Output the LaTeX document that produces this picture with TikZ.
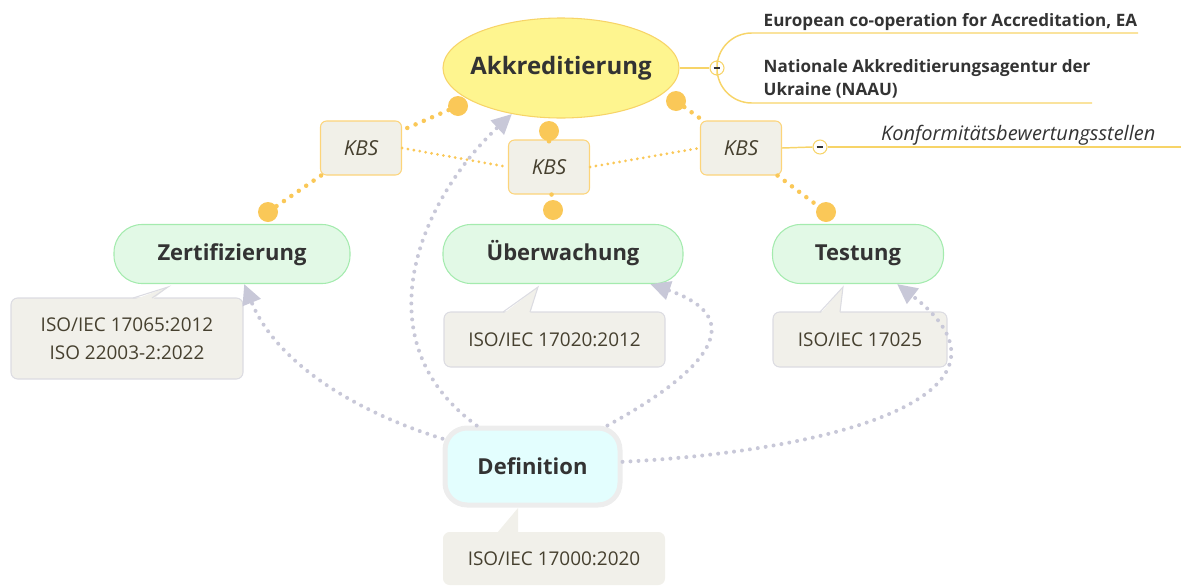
\documentclass[tikz,border=0pt]{standalone}
\usepackage{fontspec}
\setmainfont{Open Sans}
\usetikzlibrary{arrows.meta,positioning,shapes.geometric}
\definecolor{txt}{HTML}{333333}
\definecolor{notetxt}{HTML}{46402F}
\definecolor{akkfill}{HTML}{FEF58F}
\definecolor{akkline}{HTML}{F7D468}
\definecolor{kbsfill}{HTML}{F1F0E8}
\definecolor{kbsline}{HTML}{FCD47A}
\definecolor{grfill}{HTML}{E2F9E6}
\definecolor{grline}{HTML}{A4EBAE}
\definecolor{notefill}{HTML}{F1F0EA}
\definecolor{noteline}{HTML}{DCDCE2}
\definecolor{deffill}{HTML}{E3FEFE}
\definecolor{defline}{HTML}{EDEDED}
\definecolor{relc}{HTML}{C8C8D8}
\definecolor{dotc}{HTML}{FAC858}

\begin{document}
\begin{tikzpicture}[x=0.75pt,y=-0.75pt,
  every node/.style={text=txt},
  topic/.style={draw=grline,fill=grfill,line width=0.8pt,rounded corners=21pt,
    minimum height=44.25pt,inner sep=0pt,text height=11pt,text depth=1pt,
    font=\fontsize{16.5}{20}\selectfont\bfseries},
  kbs/.style={draw=kbsline,fill=kbsfill,line width=0.8pt,rounded corners=4.5pt,
    minimum width=60.75pt,minimum height=40.5pt,inner sep=0pt,
    font=\fontsize{15.5}{18}\selectfont\itshape,text=notetxt},
  note/.style={draw=noteline,fill=notefill,line width=0.8pt,rounded corners=5pt,
    inner sep=0pt,align=center,text=notetxt,font=\fontsize{14.2}{21}\selectfont},
  dot/.style={circle,fill=dotc,minimum size=15pt,inner sep=0pt},
  minus/.style={circle,draw=akkline,fill=white,line width=0.8pt,minimum size=10.5pt,inner sep=0pt},
  yrel/.style={draw=dotc,line width=3.4pt,line cap=round,dash pattern=on 0pt off 6.75pt},
  ythin/.style={draw=dotc,line width=2.3pt,line cap=round,dash pattern=on 0pt off 4.5pt},
  grel/.style={draw=relc,line width=3pt,line cap=round,dash pattern=on 0pt off 6pt,
    -{Triangle[length=15pt,width=14pt,fill=relc]}},
  branch/.style={draw=akkline,line width=1.1pt}]
  \useasboundingbox (0,0) rectangle (1181,586);

  % central topic
  \node[ellipse,draw=akkline,fill=akkfill,line width=0.8pt,minimum width=177pt,minimum height=75pt,
    inner xsep=-12pt,inner ysep=0pt,font=\fontsize{18}{22}\selectfont\bfseries] (akk) at (561,68) {Akkreditierung};

  % akkreditierung branch
  \node[minus] (m1) at (717,68) {};
  \draw[branch] (akk.east) -- (m1.west);
  \coordinate (ea) at (1138,33);
  \coordinate (naau) at (1092,103);
  \draw[branch,rounded corners=26pt] (m1.north) -- (717,33) -- (ea);
  \draw[branch,rounded corners=26pt] (m1.south) -- (717,103) -- (naau);
  \draw[txt,line width=0.9pt] ([xshift=-2.6pt]m1.center) -- ([xshift=2.6pt]m1.center);
  \node[anchor=base west,font=\fontsize{12.8}{17}\selectfont\bfseries] (eatxt) at (759,26)
    {European co-operation for Accreditation, EA};
  \node[anchor=base west,align=left,font=\fontsize{12.8}{17.25}\selectfont\bfseries] (naautxt) at (759,95)
    {Nationale Akkreditierungsagentur der\\Ukraine (NAAU)};

  % subtopics
  \node[topic,minimum width=177pt] (zert) at (232,254) {Zertifizierung};
  \node[topic,minimum width=180pt] (uebw) at (563,254) {Überwachung};
  \node[topic,minimum width=128.25pt] (test) at (858,254) {Testung};

  % KBS relations
  \node[kbs] (k1) at (361,148) {KBS};
  \node[kbs] (k2) at (549,167) {KBS};
  \node[kbs] (k3) at (741,148) {KBS};
  \draw[ythin] (k1.east) -- (k2.west);
  \draw[ythin] (k2.east) -- (k3.west);
  \node[dot] (a1) at (458,106) {};
  \node[dot] (a2) at (549,131) {};
  \node[dot] (a3) at (676,101) {};
  \node[dot] (z1) at (268,212) {};
  \node[dot] (z2) at (553,210) {};
  \node[dot] (z3) at (826,212) {};
  \draw[yrel] (a1) -- (k1) -- (z1);
  \draw[yrel] (a2) -- (k2) -- (z2);
  \draw[yrel] (a3) -- (k3) -- (z3);

  % KBS label
  \node[minus] (m2) at (820,147) {};
  \coordinate (kbsend) at (1181,147);
  \draw[branch] (k3.east) -- (m2.west);
  \draw[branch] (m2.east) -- (kbsend);
  \draw[txt,line width=0.9pt] ([xshift=-2.6pt]m2.center) -- ([xshift=2.6pt]m2.center);
  \node[anchor=base east,font=\fontsize{15}{18}\selectfont\itshape] (kbstxt) at (1160,140)
    {Konformitätsbewertungsstellen};

  % notes
  \node[note,minimum width=174pt,minimum height=60.75pt] (zn) at (127,338.5)
    {ISO/IEC 17065:2012\\ISO 22003-2:2022};
  \fill[notefill] (133,300) -- (168,287) -- (152,300) -- cycle;
  \draw[noteline,line width=0.8pt] (133,298) -- (168,287) -- (152,298);

  \node[note,minimum width=165.75pt,minimum height=41.25pt] (un) at (554.5,339.5) {ISO/IEC 17020:2012};
  \fill[notefill] (503,314) -- (538,287) -- (530,314) -- cycle;
  \draw[noteline,line width=0.8pt] (503,312) -- (538,287) -- (530,312);

  \node[note,minimum width=130.5pt,minimum height=41.25pt] (tn) at (860,339.5) {ISO/IEC 17025};
  \fill[notefill] (820,314) -- (843,287) -- (840,314) -- cycle;
  \draw[noteline,line width=0.8pt] (820,312) -- (843,287) -- (840,312);

  % definition
  \node[draw=defline,fill=deffill,line width=3.75pt,rounded corners=16.5pt,minimum width=131.25pt,
    minimum height=57.75pt,inner sep=0pt,font=\fontsize{16.5}{20}\selectfont\bfseries] (def) at (532.5,466.5) {Definition};
  \node[note,draw=none,minimum width=166.5pt,minimum height=39.75pt] (dn) at (554,558.5) {ISO/IEC 17000:2020};
  \fill[notefill] (497,533) -- (518,508) -- (518,533) -- cycle;

  % relations from definition
  \draw[grel] (def) .. controls (360,340) and (420,200) .. (akk);
  \draw[grel] (def) .. controls (350,410) and (275,360) .. (zert);
  \draw[grel] (def) .. controls (700,375) and (755,320) .. (uebw);
  \draw[grel] (def) .. controls (850,450) and (1035,390) .. (test);
\end{tikzpicture}
\end{document}
